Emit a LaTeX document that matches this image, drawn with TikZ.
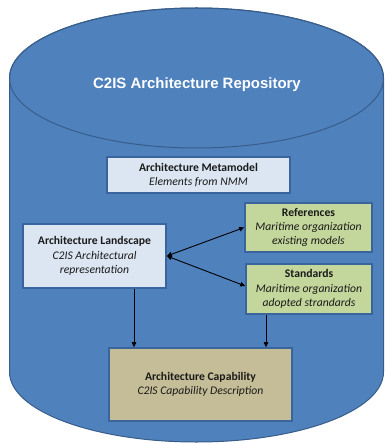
\documentclass[tikz,border=0pt]{standalone}
\usepackage{fontspec}
\setmainfont{Carlito}
\newfontfamily\titlefont{Liberation Sans}
\usetikzlibrary{arrows.meta}
\definecolor{repofill}{HTML}{4F81BD}
\definecolor{repoline}{HTML}{385D8A}
\definecolor{boxline}{HTML}{3A659C}
\definecolor{paleblue}{HTML}{DCE6F2}
\definecolor{paleolive}{HTML}{C3D69B}
\definecolor{tan}{HTML}{C4BD97}
\definecolor{ink}{HTML}{1A1A1A}
\tikzset{
  x=1bp, y=-1bp,
  block/.style={draw=boxline, line width=1.6bp, align=center, inner sep=2bp,
    font=\fontsize{11.7}{14.3}\selectfont, text=ink},
  conn/.style={draw=black, line width=0.9bp,
    -{Triangle[length=5bp,width=4.5bp]}},
  dconn/.style={conn, {Triangle[length=5bp,width=4.5bp]}-{Triangle[length=5bp,width=4.5bp]}}
}
\begin{document}
\begin{tikzpicture}
\useasboundingbox (0,0) rectangle (384,443);
% repository drum
\fill[white] (0,0) rectangle (384,443);
\path[fill=repofill, draw=repoline, line width=1bp]
  (9.5,78) -- (9.5,372) arc[start angle=180, end angle=360, x radius=187, y radius=-70]
  -- (383.5,78) arc[start angle=0, end angle=180, x radius=187, y radius=-70] -- cycle;
\draw[repoline, line width=1bp] (196.5,78) ellipse[x radius=187, y radius=70];
\node[text=white, font=\titlefont\bfseries\fontsize{15}{17}\selectfont] (title) at (197,85)
  {C2IS Architecture Repository};

% content blocks
\node[block, fill=paleblue, minimum width=183bp, minimum height=36bp] (meta) at (198.5,175)
  {\textbf{Architecture Metamodel}\\ \textit{Elements from NMM}};
\node[block, fill=paleblue, minimum width=143bp, minimum height=64bp] (land) at (94.5,256)
  {\textbf{Architecture Landscape}\\ \textit{C2IS Architectural}\\ \textit{representation}};
\node[block, fill=paleolive, minimum width=127bp, minimum height=49bp] (refs) at (308.5,227.5)
  {\textbf{References}\\ \textit{Maritime organization}\\ \textit{existing models}};
\node[block, fill=paleolive, minimum width=126bp, minimum height=50bp] (stand) at (309,289)
  {\textbf{Standards}\\ \textit{Maritime organization}\\ \textit{adopted strandards}};
\node[block, fill=tan, minimum width=183bp, minimum height=73bp] (cap) at (200.5,384.5)
  {\textbf{Architecture Capability}\\ \textit{C2IS Capability Description}};

% connectors
\draw[dconn] (land.east) -- (refs.west);
\draw[dconn] (land.east) -- ([yshift=3bp]stand.west);
\draw[conn] ([xshift=39.5bp]land.south) -- ([xshift=39.5bp]land.south |- cap.north);
\draw[conn] ([xshift=-43bp]stand.south) -- ([xshift=-43bp]stand.south |- cap.north);
\end{tikzpicture}
\end{document}
